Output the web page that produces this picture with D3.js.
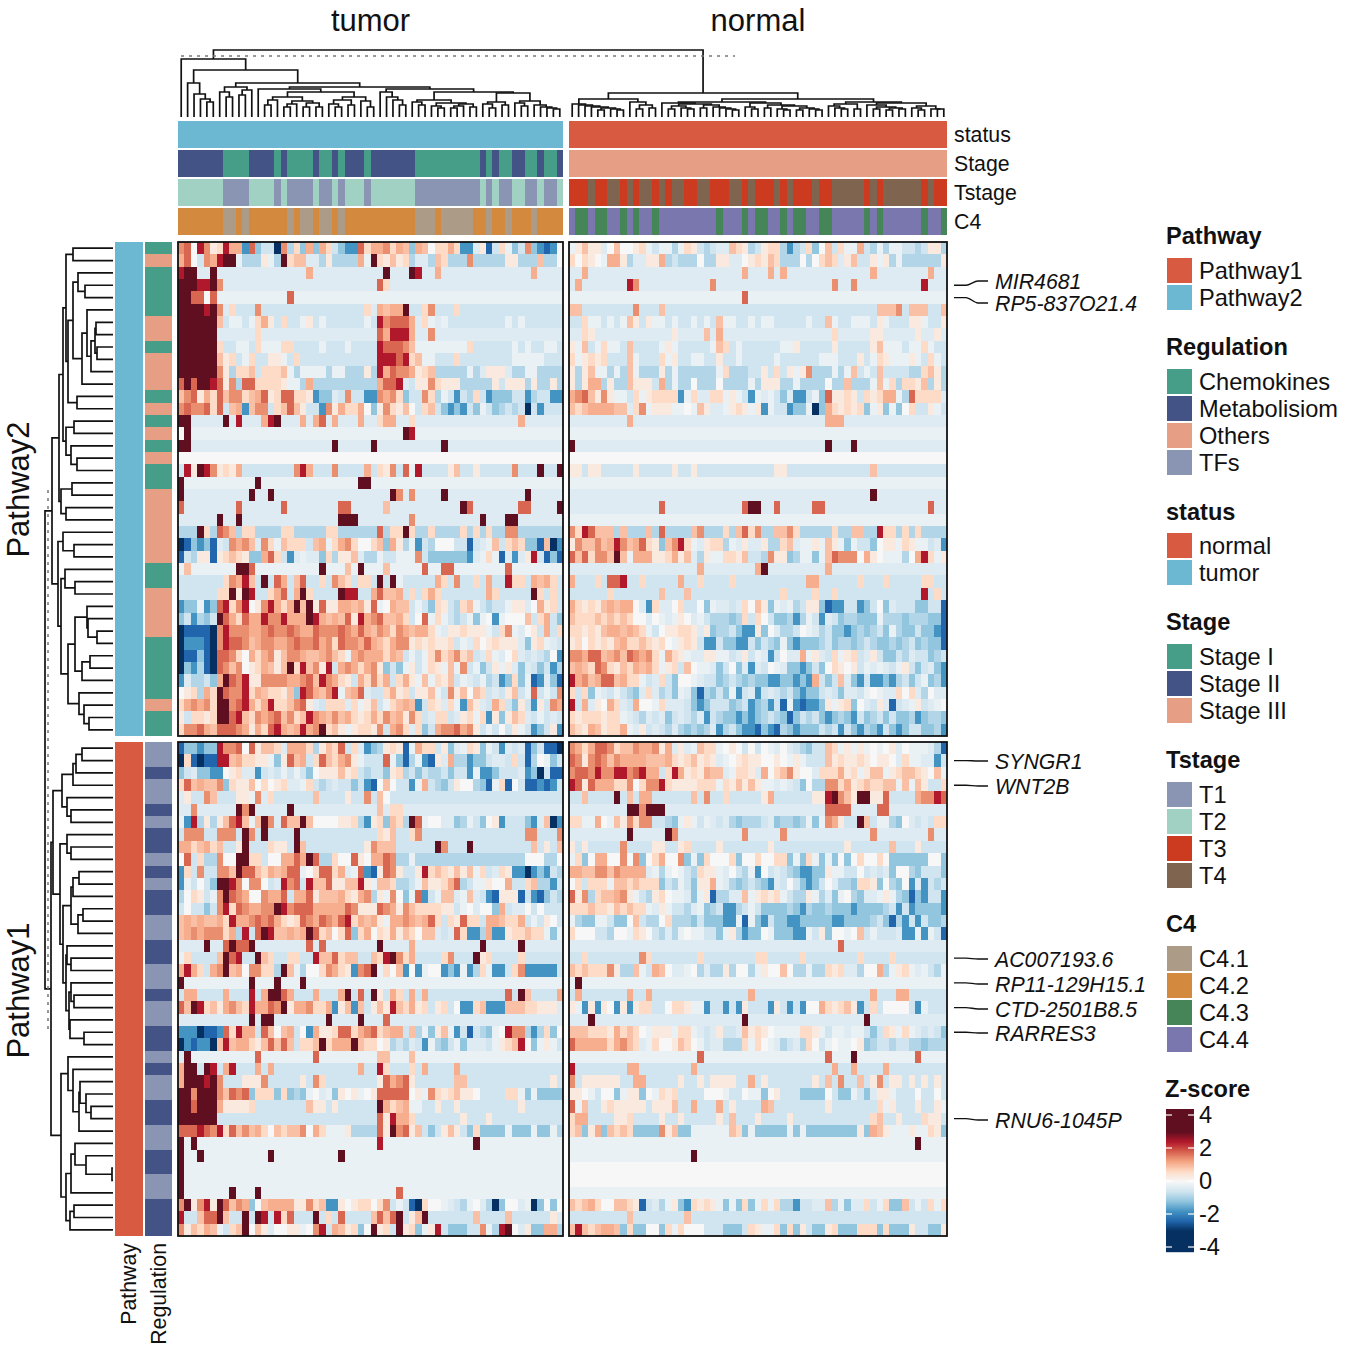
<!DOCTYPE html>
<html>
<head>
<meta charset="utf-8">
<script src="https://cdn.jsdelivr.net/npm/d3@7"></script>
<style>
  html, body { margin: 0; padding: 0; background: #fff; }
  text { font-family: "Liberation Sans", Arial, sans-serif; fill: #111; }
</style>
</head>
<body>
<script>
// z-score per letter, cells are written as letter + optional repeat count
const zCodes = { a: -3, b: -2.4, c: -1.8, d: -1.2, e: -0.9, f: -0.6, g: -0.4, h: -0.2, i: 0,
  j: 0.3, k: 0.6, l: 0.9, m: 1.1, n: 1.4, o: 1.75, p: 2.4, q: 3 };

const tumorPathway2 = [
  "noipnjkpm2codf2anekdmdmkfdc2okm2nkmldmlik2mkc2gjbfkhdfndcbci",
  "moifnmpq2he3jheqkl2g2eje4mhqkjljkeg2elke3ne5j2e3le2i",
  "pq2g2qg14mg11qg3qpg2mg14mg4",
  "q3p2qng24okg27",
  "q2o2ioh11oh42",
  "q4pqngkf3nf16kgmlm2qf2knf3kf16",
  "q6lfh2fhkmjfkf2hjfhf6hfpno3mgkhghf9hfhf6",
  "q6g6kg18omp3mg2ng20",
  "q6kf2h2fkh3k2f4hf3hf4po3nlh8kf6hfhf2h2f",
  "q6ljkfhkf2j2hfkf12p3opklh2f3kf8h5f3",
  "q6njek2lfk3lheh4eh2e3jepmon2mjkle5hegj3ge2h2e4",
  "oqoq2pojneo2k4jh2eme10mo2pgfj2nkj3e5jfj3eje2je",
  "lnojmkolnn klmojkookk jcddgfnffc cnmnkdffnk ehfcfekfcd ddffceffcc",
  "nonnokoflm clnnfklolj ffcnjmkkmi djnkjlifkl fdcdcfdhfd efefafcfff",
  "q2g5qgpg3mpqg3mgmogmg3mg2km2g2kg16mg6",
  "iqh33qph23",
  "q2g22qg5qg10qg18",
  "i60",
  "fpjqpnjkjm f8npmf3nf4mfkjnfohpf4jlf2jf5nf3qf2q",
  "qh11qh15q2h30",
  "qg10qg2qg18qngng4qg12qg5",
  "og8og6og8o2g5lg11qog7o2g4q",
  "g6qg2qg15q3g8ng10qg3q2g7",
  "eeeqkeonle kkeeeekkee eeekkeeeee eoekkqkeek eeeekekeke enneeeeeee",
  "abdcdbgfnm nlgnkhlkkk flmhkmnkii kldmjehcfe iiiffbfghl fklkddblac",
  "bfejjbjklk jddmokfcgh ggdkejjlge ehffhhhnfd dddddcghkh bgcgjpfbdb",
  "hlh7q2oh10qh3lhqh3lh5oh2o2h8oh8",
  "fffffffknm plfqfomflo ffkfnlkfkk fqfqhfffff mkfnffkfmf fpkkfmlmkf",
  "ffffffkkqj qpffkmofmq kffffqppff mollmfkfkm kfffffffmk fffffqkfkf",
  "cddhcdopkn pijnpmkmql qjojjmmlmj ohimllfhfd kjfeklhfef fhjjgimjkf",
  "dfcedfqomk ommpnnpmmm qpmlmlojpm nollmkfioh khfefhdhic hiiilfkmfd",
  "abbbbanpnn nmmnonnonm monnnonmom lnmknmlmmk hgjjkjjjhf knhgijfmfk",
  "acccbanpoo nlmnnmmnon nomnkonnmo mlkmnnjkjk jjkfhgkijk jjjgdjkhgf",
  "abbdbaoonk imkmnjlnnm llmnlkhmnm mmkmlfhfhk nklnklfgkh gikgfgfeic",
  "adcebaonln ijkmljlqkp lnjpfmnmkm njdfdhjfhk jhlhnfhdfj hjgdgfdfce",
  "cgeefdmqon pjjnnnnmmn olpnmkjfmk nkmfkmjhlh kjlfhgfhef cdkdhbcgdb",
  "ijkemkqonn pkmlkkjldp omlnphlmog ffkmjkfjjl hfnjlilkfg fjlfhofhfn",
  "kmnmnkqqno pmkmpkklno jgfkkkgkhj lfhklmlcfk jgkhcljgfm kfdjfcjfnm",
  "jfkkjkqqop lknmnolnkl pnmlnlmkjk mknlmjnkfg kkfgjkhkcj djlkgfhfgf",
  "knnomlooon mjmkopmlmp mnqkljhjkk jnfmnkgkdf mnnomnjfhf ifjhfcdfjc"
];

const normalPathway2 = [
  "hjljjgilii jkhfhhehkj fefgglkjef jkkecefkdi lfkhhmfehe hhffefjje",
  "kikjihmmje ggjjmefeee ieejjggijk jlkeeeieik lkgjlffjhj eheeeeeej",
  "g2mg24mg3mgmg13mg8mg2",
  "gmg7png11ng18ng2ng10pg3",
  "h27oh31",
  "l2f8nf3lf33l3nfl3f2l",
  "ffkhhfhfhl jfjhhfhffh fhflhhffhf hhfffffhff lhffhhhfjh fffjjhffj",
  "g2kjg12jg4lgmg17kg5j2g5jg2jg",
  "jhlfhkhhfl ffffhjhfff ffhlkfhfff fffhhjffff fjfffffjlh hhfhhkhff",
  "khjkjkfffl hfffkhjffh hffjffhfff ffhffffffh hhfffjfhkj hhhjhfkhf",
  "jejlhhehel heeejeheee eeehkeeeff jfkfjhjnee ehehlfhflf fffeekljee",
  "jejmmejeel jjjfmeheei eeeieeeehe jjjeeheeee ieeleeehlh kekkjleje",
  "mnoljnjhhf khjkkkkchk ggkkhjhfch ghfdgccfhd ojjkjfkjkm mheokkkk",
  "lklmmmmllg knhjjjhhih ljgghjkjhj chffcddhad mkjkjkdhjd hdikffjhf",
  "g9mg30m3g16",
  "h59",
  "qg39qg3qg14",
  "i59",
  "j2fj2f5jf5jf2jf12j2f13lf11",
  "h59",
  "g47qg11",
  "g14og12oq2g2og5o2g16og2",
  "h59",
  "nkpolllele eeleoeeeel neeekelokn eellnkeeee ekeelleepk kekekeeee",
  "jnllnlmpnl mokjdlnpkh gjkkehgjgg jeeklghhjh ljhdhffdij jhkjhhfgc",
  "olokn2lqlh mmmjjkmjlg ejhhkkjlff enjjdehhdh lonnnimjih hheimpkhj",
  "g20mg8mqg9mg18",
  "mf3kfo2pf2kf5mf2kf4kf11m2f6kf3kf5k2f2",
  "f6kf7lf3lf14kf4kf2kf13pfkf",
  "mkjkjlmlmm igckggikff idhggfgkil jdhghefjjd bccffcdfid gfffddffb",
  "lkkklklklk iigihghjig hfeeedekfk ifddecehfc gfdeedddhe eedeeeddb",
  "kkjkjlmmlm lkhfijjkkj gjdeefdccj digeefihge fddcdedefd heddfddcb",
  "jkikjkjlmk klkjkihjkj fccfddccfd fedhdcddde fdeedefedd edefdeddb",
  "nnmoolmnlo nmnkhmkjhg gjjhhfgjfh gcfiggmhjg fkhjkfgjfd dfegffdef",
  "lmlkonkjlk mlmkhjkfli hhgdfidgcg fihgddcdfd ikjijfhghg fhjfdfgdc",
  "pmnlmoolmk khfgkfdiih gffdefeded dccddcdcmf dflgdcfccd cefdfhdec",
  "kfkdhgfhfe dgkgefdhgd bedfdhcfgc fgfefdcddf gfdggfhihg gkikgeigg",
  "pfmgjimkgf miihkgggfd cdfffdefcd ecfbhcbccd jhjkdigfjg bfghjfghi",
  "kjkkkjkkhg fegfgdfgfe gcfeddcdcd efedbdfefd cdedcfdefd fddecdeed",
  "lkjmljkkmh gjfgfegede degcefdccb dcbedcdddf efcfdcedcf dcdffddec"
];

const tumorPathway1 = [
  "bddcddpnno iojllkgmmm kejlkofkgc dejkjbhmkk fjdghkjdhf cgfgbdfbba",
  "akbabbpplm kkjjhdjolm fkolkmnjhf ffohdbehcb jgmeecddfg gfkfbeihdf",
  "dfgddccijk ggcfgfhfhf dijjjljkfe ffdjkefdfe efdffchccd fffgcdafbb",
  "kolmllndkj jlikijkggh kfefgffdfc biliffchmf edfjiiedbh kbifbbcbcf",
  "gjf2nlf3j2hngkf6lf4jf2nflif27",
  "g2ng6qnqg5qg13lgk2g25",
  "hcpejejlop lhlqngollq liiiijjkec jkdlkeqohi iggdehfdij cfffdcglac",
  "fn3f2n3fqnfqf4qf12kjlf2knf16n2f3n",
  "m2klmklf2jqf3kj2fqlf9jnl3f6qnf3qf9lfjfl",
  "iofke2ni2q2k2fi2m2omqoe2ki2ojim2one2he17i3e2i",
  "ckfnffnnlq oolkmlmooh ikookmghoc bjonjffjpk lkjljlhkfg kjccacdcfe",
  "chfifdqqpn innifgpnof pllojjllpj hllkeefhlj jkmoefhhji imffkleecf",
  "eikjfhnqon miinmmofmm ojlllmkjmn ejhnidhocf hllghlgfcb jjjbfcbdfe",
  "fiffdfnpko nmmnnqpnoo ommmmmonjj jonmjnlkkk kjjfhigiid mfggififff",
  "lmlmllmkpm mnonomkjko nmonmopkml mjhmmnmlmo kfkjokkfmm lkkmfhfjif",
  "lmnmnnnkme pfoqpllmlm qoklikodkm ikjmjlkill gfgokccemc cjkklkkhdh",
  "g4qg2oqo2qg8ogog8qg4mg10qg5qg6",
  "hkfffflqop ffqlkffkkf fpllokllff lkpqnkmfff fknfffqjkf fffkffffff",
  "mpmkfmnqlm innkkeqlhe iiknmkjcno qhkilcichi icdchcekhc cfkncccccf",
  "qh10qh3qh3qh40",
  "fm2f4mf3pfmq2omf3mf3mqfofqjfmkfmfmf12ofqlf4m",
  "olqpkljmnl kpmmonqjmm nkkmcjlclf jljplkmjkf jkficcklcc clllkkjjjg",
  "g11qgq2g8qg4qg3og27",
  "cccabbcokp mmfolilmfi cmjjkookmn oklmmflehd jlhcfbfedh ipnnecekdi",
  "acbccalplm mkjlololfk klqkmmmqlk kijefegfch edfhdgggfh jklpidhjhf",
  "gqh10oh8oh9l2h3lh23",
  "mq2fqpfmpf3mfmf13mf2pkf3kfmf4mf16",
  "mq3pqnf3j3nf5jfnkf8jomnojf6l2f13jf",
  "qqnqqqnlon odkkkdkded highdjijhi joooooijhn kjkljjifff fkkhdhdddd",
  "q2oq3mj4kf8lj2fjf6qmklmh2f2jf2jf9jf6",
  "q6f25ojpm2kf7jf3jf11",
  "oooponpkol nlmkilklln imkhhhjeee eojqnojlfd fjljfdkddd dhdddhddhe",
  "qhqh28ph14qh13",
  "qh2qh10qh10qh34",
  "qh59",
  "qh59",
  "qh7qh3qh21oh25",
  "nqjnpjqoln mdilmmmmjj nklccjijkk iknfhfbaki ihgfehigea diighadidi",
  "pfflooqlff qfqpfpkoff fqfkfoffff loloqfjlqf ffffffl fff flffffffj",
  "njlkmlhfkl qiljgiijjh inpfmljkdi qjkfqjkdhj pfdddffnhe pqigjddmme"
];

const normalPathway1 = [
  "nmkmoonkll nmmnjmgjgh lkkhijifif ihgigfedff lkhjhjhihi jgihhhgeb",
  "onjnonlnmm mmlllmkjkl jkjghijkjj iijihjhfff ljkjjkjijj igkhhggcf",
  "noonpnnppn opmmfkpmjk jmllghkkjg miklnjiigk kkmjkhjllh jkllkjilh",
  "pojommmkkn iknnpkjjjj kkkhkjljlj hhghgfdiee nnkmjklkkl lhlhljffk",
  "f2lf4qflfm2f6lfnf2kf5jmf6j2pqnljq2j2of4mn2po",
  "g9q2nq3g25o4g4o2g9",
  "kkhhmihljn knnffedhjh fhgfgedeee fgdeedehdh nmjffqlfhh edigfgfkk",
  "g9qg5qng10ng5ng13ng8ng2",
  "jfjf5nf4j2f2jkf4jf7jf11jf6lf3jf4",
  "hkdimmiini ndikmiindh dkiiikdiik iikkdhdkhd hdidikiiki ddddddiid",
  "mmllnnlnmm mmghehihfe kjjhgifehc ifgfedccdd jhhffifgfg diiedfffd",
  "ikfkkkhllk lkkkdfehfd jjmhgedefe dcgfifdcdf igeedkkjdi edicgcfef",
  "ojnekllmnj hfejkihhgd hjbeegglhj kjkhfeejhe gdhiedgghj hedbdcffc",
  "kkklkkjlkl kkhgjhffeg hdefccefhf ddddedcedd edddcdddde fcfcddddc",
  "heddhhfddi lfeeikeeed fdddcchbhd cfddccdddd dccddddefd becfcfdde",
  "kiiiffeiih kjifegehih hffdhjecdd ihdddcchfj diihilfhff fgcchchfb",
  "g42og16",
  "f2kf8nkf7kf8k2f5kf8kf4kf8",
  "lklkkknjee lhfmligghi egeejeiieh jiilieehee kjkggeiime hjkhghfeh",
  "hqh57",
  "fmf7mf2mf15mf18mf3m2f6",
  "jhcjcjicjc jkkffikkjh hcffcfcjff fcjfcfciim kjkljcfkfi iiifchfff",
  "g3qg23qg18qg12",
  "lllkkkjmkl kihjjjhkkh gfgjffgljk jihhhhkkjh fhhghhfdfk jhkhgfgfd",
  "ommmmmkmnl kghkiijlki hfggeeekhk ihgefgekif hihhijdeff effeedeee",
  "h20oh19oh3qh9oh4",
  "pf8m2f8mf21mf2mf4mf9",
  "nfj6f2m2f5jf2jfj4f2mfjf7jflfnf2lfjnfj2fjfjfjf",
  "jjihfiidhj jdihkjkfff fiiihffihh dijfffdddd ifddhfdgjj hfffiffif",
  "ohlffjkjjj jjfjjjlffm fffmfjffff mlffffffff jfffffffkh jfffjffjh",
  "km2f4j2kf4jf2jf5jflf3jf4jf12klf2jf3kj2f",
  "kldjmdlklk ddddnjlddh hhhhhlkdhd ddddhdhddd dddddjdmlj hhhjhhkjd",
  "h54qh4",
  "h19qh39",
  "i59",
  "i59",
  "h59",
  "lklmkiillk jbfgehjdck jkjhdhdkdh khkeecffgg lehdggkfhk ddlfhfkhk",
  "f9lf8lf40",
  "lplklmmldk ddiidkhkii ifffdddfkj hhkdkdjfdd jkdddkkkdk dddjffddj"
];

const stageTumor = [["II",7],["I",4],["II",4],["I",1],["II",1],["I",4],["II",1],["I",2],["II",1],["I",1],["II",3],["I",1],["II",7],["I",10],["II",1],["I",1],["II",1],["I",2],["II",2],["I",2],["II",1],["I",2],["II",1]];
const c4Tumor = [["2",7],["1",2],["2",1],["1",1],["2",6],["1",1],["2",1],["1",2],["2",1],["1",2],["2",1],["1",1],["2",11],["1",3],["2",1],["1",5],["2",2],["1",1],["2",2],["1",1],["2",3],["1",1],["2",4]];
const tstageNormalRuns = [3,1,2,2,1,1,1,2,1,1,1,2,2,2,3,2,1,1,3,1,1,1,3,1,2,5,1,1,1,6,1,1,2]; // T3, T4 in turn
const c4NormalRuns = [1,2,1,2,2,1,1,1,2,1,9,1,3,1,1,2,2,1,1,2,2,2,5,1,1,1,6,1,2,1]; // C4.4, C4.3 in turn

const regulationP2 = [["Chemokines",1],["Others",1],["Chemokines",4],["Others",2],["Chemokines",1],["Others",3],["Chemokines",1],["Others",1],["Chemokines",1],["Others",1],["Chemokines",1],["Others",1],["Chemokines",2],["Others",6],["Chemokines",2],["Others",4],["Chemokines",5],["Others",1],["Chemokines",2]];
const regulationP1 = [["TFs",2],["Metabolisiom",1],["TFs",2],["Metabolisiom",1],["TFs",1],["Metabolisiom",2],["TFs",1],["Metabolisiom",1],["TFs",1],["Metabolisiom",2],["TFs",2],["Metabolisiom",2],["TFs",2],["Metabolisiom",1],["TFs",2],["Metabolisiom",2],["TFs",1],["Metabolisiom",1],["TFs",2],["Metabolisiom",2],["TFs",2],["Metabolisiom",2],["TFs",2],["Metabolisiom",3]];

// genes marked on the right: pathway block, row index, label, label y
const geneMarks = [
  ["P2", 3, "MIR4681", 281], ["P2", 4, "RP5-837O21.4", 303],
  ["P1", 1, "SYNGR1", 761], ["P1", 3, "WNT2B", 786],
  ["P1", 17, "AC007193.6", 959], ["P1", 19, "RP11-129H15.1", 984],
  ["P1", 21, "CTD-2501B8.5", 1009], ["P1", 23, "RARRES3", 1033], ["P1", 30, "RNU6-1045P", 1120]
];

// dendrograms: [height, left, right], 0 is a leaf
const tumorTree = [58, 0, [47,
  [34, 0, [23, 0, [18, 0, [15, 0, 0]]]],
  [34,
    [30, [25, 0, [20, 0, 0]], [27, [22, 0, 0], 0]],
    [30,
      [28, 0, [25,
        [20, [17, [12, 0, 0], 0], [16, [13, [10, 0, 0], 0], [14, [10, 0, 0], [10, 0, 0]]]],
        [20, [17, [13, 0, [10, 0, 0]], [12, 0, 0]], [16, 0, [10, 0, 0]]]]],
      [28, [25, 0, [20, 0, [17, 0, [12, 0, 0]]]],
        [25, [17, [15, 0, [12, 0, 0]], [14, [11, 0, [9, 0, 0]], [13, [11, [9, 0, 0], 0], [10, 0, 0]]]],
          [24, [15, [13, 0, [9, 0, 0]], [12, 0, 0]], [16, [14, 0, [11, 0, 0]], [12, 0, [10, 0, [9, 0, [8, 0, 0]]]]]]]]
    ]]]];
const normalTree = [24,
  [18,
    [13, 0, [12, 0, [11, 0, [10, 0, [9, [7, 0, 0], [8, 0, [7, 0, 0]]]]]]],
    [15, 0, [12, [8, 0, 0], [9, 0, 0]]]],
  [18,
    [15,
      [14, 0, [13, [11, [8, 0, 0], [9, 0, [8, 0, 0]]], [12, [9, 0, 0], [10, 0, [9, 0, [8, 0, [7, 0, 0]]]]]]],
      [14, [10, 0, [8, 0, 0]], [12, [9, 0, 0], [11, [8, 0, [7, 0, 0]], [9, [7, 0, 0], [8, 0, [7, 0, 0]]]]]]],
    [15,
      [13, [11, 0, [9, 0, [8, 0, 0]]], [8, 0, 0]],
      [14, [12, 0, [10, [8, 0, 0], [9, [7, 0, 0], [8, 0, 0]]]], [11, [9, 0, [7, 0, 0]], [8, 0, [8, 0, 0]]]]]]];
const rowTreeP2 = [61,
  [54,
    [50,
      [47, [40, 0, 0], [45,
        [40, [35, 0, [28, 0, 0]], [31, [26, 0, [22, [18, [17, 0, 0], [16, 0, 0]], 0]], 0]],
        [36, 0, 0]]],
      [47, [39, 0, 0], [42, 0, [36, 0, 0]]]],
    [52, [41, 0, 0], [47, 0, 0]]],
  [55,
    [50, 0, [39, 0, 0]],
    [52, [48, 0, [38, 0, 0]],
      [45, [38, [26, 0, [25, 0, [16, 0, 0]]], [31, [23, 0, 0], 0]], [34, 0, [29, 0, [24, 0, 0]]]]]]];
const rowTreeP1 = [62,
  [60,
    [51, [40, [37, [31, 0, 0], 0], 0], [46, 0, [42, 0, 0]]],
    [53, [46, 0, [42, 0, 0]],
      [50, [42, [40, [34, 0, 0], 0], [35, [30, 0, 0], 0]],
        [47, [46, 0, [42, 0, 0]],
          [44, [42, 0, [39, 0, 0]], [43, 0, [29, 0, 0]]]]]]],
  [52,
    [45, 0, [40, 0, [34, [33, 0, [27, 0, [22, 0, 0]]], 0]]],
    [47, [42, [38, 0, [27, 0, [1, 0, 0]]], 0], [43, [39, 0, 0], 0]]]];

const titleLabels = ["tumor", "normal"];
const annotationLabels = ["status", "Stage", "Tstage", "C4"];
const legendBlocks = [
  ["Pathway", 236, ["Pathway1", "Pathway2"], 258],
  ["Regulation", 347, ["Chemokines", "Metabolisiom", "Others", "TFs"], 369],
  ["status", 512, ["normal", "tumor"], 533],
  ["Stage", 622, ["Stage I", "Stage II", "Stage III"], 644],
  ["Tstage", 760, ["T1", "T2", "T3", "T4"], 782],
  ["C4", 924, ["C4.1", "C4.2", "C4.3", "C4.4"], 946]
];
const zTicks = [4, 2, 0, -2, -4];

const palette = {
  Pathway1: '#d85a41', Pathway2: '#6cb7d2', normal: '#d85a41', tumor: '#6cb7d2',
  Chemokines: '#479e88', Metabolisiom: '#435385', Others: '#e69f84', TFs: '#8a94b3',
  'Stage I': '#479e88', 'Stage II': '#435385', 'Stage III': '#e69f84',
  T1: '#8a94b3', T2: '#a1d1c3', T3: '#cc3a1f', T4: '#7f6550',
  'C4.1': '#ac9c87', 'C4.2': '#d38a3e', 'C4.3': '#468558', 'C4.4': '#7a76ae'
};

// layout
const width = 1346, height = 1352;
const nTumor = 60, nNormal = 59, nRows = 40;
const fs = 23.6, fsSmall = 21.3;

const expand = runs => runs.flatMap(([k, n]) => d3.range(n).map(() => k));
const decodeRow = (str, n) => {
  const out = [];
  for (const m of str.matchAll(/([a-q])(\d*)/g)) {
    const times = m[2] ? +m[2] : 1;
    for (let i = 0; i < times; i++) out.push(zCodes[m[1]]);
  }
  return out.slice(0, n);
};
const alternate = (runs, a, b) => runs.flatMap((n, i) => d3.range(n).map(() => (i % 2 ? b : a)));

const xTumor = d3.scaleBand().domain(d3.range(nTumor)).range([178, 563]);
const xNormal = d3.scaleBand().domain(d3.range(nNormal)).range([569, 947]);
const yP2 = d3.scaleBand().domain(d3.range(nRows)).range([242, 736]);
const yP1 = d3.scaleBand().domain(d3.range(nRows)).range([742, 1236]);

const zColor = d3.scaleLinear()
  .domain(d3.range(11).map(i => -3 + i * 0.6))
  .range(['#053061', '#2166ac', '#4393c3', '#92c5de', '#d1e5f0', '#f7f7f7', '#fddbc7', '#f4a582', '#d6604d', '#b2182b', '#5f0f20'])
  .clamp(true);

const svg = d3.select('body').append('svg').attr('width', width).attr('height', height);

// heatmap panels
function drawPanel(rows, x, y) {
  const g = svg.append('g').attr('shape-rendering', 'crispEdges');
  g.append('rect')
    .attr('x', x.range()[0]).attr('y', y.range()[0])
    .attr('width', x.range()[1] - x.range()[0]).attr('height', y.range()[1] - y.range()[0])
    .attr('fill', zColor(-0.4));
  rows.forEach((str, r) => {
    g.selectAll(null).data(decodeRow(str, x.domain().length)).enter().append('rect')
      .attr('x', (d, i) => x(i))
      .attr('y', y(r))
      .attr('width', x.bandwidth() + 0.4)
      .attr('height', y.bandwidth() + 0.4)
      .attr('fill', d => zColor(d));
  });
  svg.append('rect')
    .attr('x', x.range()[0]).attr('y', y.range()[0])
    .attr('width', x.range()[1] - x.range()[0]).attr('height', y.range()[1] - y.range()[0])
    .attr('fill', 'none').attr('stroke', '#111').attr('stroke-width', 1.8);
}
drawPanel(tumorPathway2, xTumor, yP2);
drawPanel(normalPathway2, xNormal, yP2);
drawPanel(tumorPathway1, xTumor, yP1);
drawPanel(normalPathway1, xNormal, yP1);

// column annotations
const annTop = { status: 120.5, Stage: 150, Tstage: 179, C4: 208 };
const annH = 27;
function colAnn(keys, x, top) {
  svg.append('g').attr('shape-rendering', 'crispEdges').selectAll('rect').data(keys).enter().append('rect')
    .attr('x', (d, i) => x(i)).attr('y', top)
    .attr('width', x.bandwidth() + 0.4).attr('height', annH)
    .attr('fill', d => palette[d]);
}
colAnn(d3.range(nTumor).map(() => 'tumor'), xTumor, annTop.status);
colAnn(d3.range(nNormal).map(() => 'normal'), xNormal, annTop.status);
colAnn(expand(stageTumor).map(k => 'Stage ' + k), xTumor, annTop.Stage);
colAnn(d3.range(nNormal).map(() => 'Stage III'), xNormal, annTop.Stage);
colAnn(expand(stageTumor).map(k => (k === 'II' ? 'T2' : 'T1')), xTumor, annTop.Tstage);
colAnn(alternate(tstageNormalRuns, 'T3', 'T4'), xNormal, annTop.Tstage);
colAnn(expand(c4Tumor).map(k => 'C4.' + k), xTumor, annTop.C4);
colAnn(alternate(c4NormalRuns, 'C4.4', 'C4.3'), xNormal, annTop.C4);
annotationLabels.forEach(t => {
  svg.append('text').attr('x', 954).attr('y', annTop[t] + 21).style('font-size', fsSmall + 'px').text(t);
});

// row annotations
function rowAnn(keys, y, x0, w) {
  svg.append('g').attr('shape-rendering', 'crispEdges').selectAll('rect').data(keys).enter().append('rect')
    .attr('x', x0).attr('y', (d, i) => y(i))
    .attr('width', w).attr('height', y.bandwidth() + 0.4)
    .attr('fill', d => palette[d]);
}
rowAnn(d3.range(nRows).map(() => 'Pathway2'), yP2, 115.3, 27.4);
rowAnn(d3.range(nRows).map(() => 'Pathway1'), yP1, 115.3, 27.4);
rowAnn(expand(regulationP2), yP2, 145, 26.7);
rowAnn(expand(regulationP1), yP1, 145, 26.7);

// dendrograms
function layoutTree(node, pos, cursor) {
  if (node === 0) return { at: pos(cursor.i++), h: 0 };
  const a = layoutTree(node[1], pos, cursor);
  const b = layoutTree(node[2], pos, cursor);
  return { at: (a.at + b.at) / 2, h: node[0], kids: [a, b] };
}
function elbows(n, toXY, out) {
  if (!n.kids) return;
  const ctx = d3.path();
  const [p0, p1] = n.kids;
  const a = toXY(p0.at, p0.h), b = toXY(p0.at, n.h), c = toXY(p1.at, n.h), d = toXY(p1.at, p1.h);
  ctx.moveTo(a[0], a[1]); ctx.lineTo(b[0], b[1]); ctx.lineTo(c[0], c[1]); ctx.lineTo(d[0], d[1]);
  out.push(ctx.toString());
  n.kids.forEach(k => elbows(k, toXY, out));
}
const topH = d3.scaleLinear().domain([0, 67]).range([117, 50]);
const sideH = d3.scaleLinear().domain([0, 68]).range([113, 45]);
const topXY = (at, h) => [at, topH(h)];
const sideXY = (at, h) => [sideH(h), at];

const tT = layoutTree(tumorTree, i => xTumor(i) + xTumor.bandwidth() / 2, { i: 0 });
const tN = layoutTree(normalTree, i => xNormal(i) + xNormal.bandwidth() / 2, { i: 0 });
const tP2 = layoutTree(rowTreeP2, i => yP2(i) + yP2.bandwidth() / 2, { i: 0 });
const tP1 = layoutTree(rowTreeP1, i => yP1(i) + yP1.bandwidth() / 2, { i: 0 });
const topRoot = { at: (tT.at + tN.at) / 2, h: 67, kids: [tT, tN] };
const sideRoot = { at: (tP2.at + tP1.at) / 2, h: 68, kids: [tP2, tP1] };

const paths = [];
elbows(topRoot, topXY, paths);
elbows(sideRoot, sideXY, paths);
svg.append('g').selectAll('path').data(paths).enter().append('path')
  .attr('d', d => d).attr('fill', 'none').attr('stroke', '#111').attr('stroke-width', 1.7);

// cut lines
svg.append('line').attr('x1', 181).attr('x2', 735).attr('y1', 56).attr('y2', 56)
  .attr('stroke', '#777').attr('stroke-width', 1.5).attr('stroke-dasharray', '3 5');
svg.append('line').attr('x1', 48).attr('x2', 48).attr('y1', 490).attr('y2', 1032)
  .attr('stroke', '#777').attr('stroke-width', 1.5).attr('stroke-dasharray', '3 5');

// titles
titleLabels.forEach((t, i) => {
  const x = i ? xNormal : xTumor;
  svg.append('text').attr('x', (x.range()[0] + x.range()[1]) / 2).attr('y', 31)
    .attr('text-anchor', 'middle').style('font-size', '31px').text(t);
});
[['Pathway2', 489.5], ['Pathway1', 990.5]].forEach(([t, y]) => {
  svg.append('text').attr('transform', `translate(28.5,${y}) rotate(-90)`)
    .attr('text-anchor', 'middle').style('font-size', '31px').text(t);
});
[['Pathway', 136, 1243], ['Regulation', 166, 1243]].forEach(([t, x, y]) => {
  svg.append('text').attr('transform', `translate(${x},${y}) rotate(-90)`)
    .attr('text-anchor', 'end').style('font-size', fsSmall + 'px').text(t);
});

// gene marks
geneMarks.forEach(([block, row, label, ly]) => {
  const y = block === 'P2' ? yP2 : yP1;
  const y0 = y(row) + y.bandwidth() / 2;
  const line = d3.line().curve(d3.curveMonotoneX);
  svg.append('path').attr('d', line([[954, y0], [966, y0], [978, ly], [988, ly]]))
    .attr('fill', 'none').attr('stroke', '#111').attr('stroke-width', 1.3);
  svg.append('text').attr('x', 995).attr('y', ly + 7.5)
    .style('font-size', fsSmall + 'px').style('font-style', 'italic').text(label);
});

// legends
legendBlocks.forEach(([title, cy, items, top]) => {
  svg.append('text').attr('x', 1166).attr('y', cy + 8)
    .style('font-size', fs + 'px').style('font-weight', 'bold').text(title);
  items.forEach((t, i) => {
    svg.append('rect').attr('x', 1167).attr('y', top + i * 27).attr('width', 25).attr('height', 25)
      .attr('fill', palette[t]);
    svg.append('text').attr('x', 1199).attr('y', top + i * 27 + 21)
      .style('font-size', fs + 'px').text(t);
  });
});

// z-score colour bar
const zY = d3.scaleLinear().domain([4, -4]).range([1115, 1247]);
svg.append('text').attr('x', 1165).attr('y', 1097)
  .style('font-size', fs + 'px').style('font-weight', 'bold').text('Z-score');
svg.append('g').selectAll('rect').data(d3.range(1109, 1252)).enter().append('rect')
  .attr('x', 1166).attr('y', d => d).attr('width', 28).attr('height', 1.2)
  .attr('fill', d => zColor(zY.invert(d)));
zTicks.forEach(t => {
  [[1166, 1172], [1188, 1194]].forEach(([a, b]) => {
    svg.append('line').attr('x1', a).attr('x2', b).attr('y1', zY(t)).attr('y2', zY(t))
      .attr('stroke', '#fff').attr('stroke-width', 1.2);
  });
  svg.append('text').attr('x', 1199).attr('y', zY(t) + 8)
    .style('font-size', fs + 'px').text(t);
});
</script>
</body>
</html>
